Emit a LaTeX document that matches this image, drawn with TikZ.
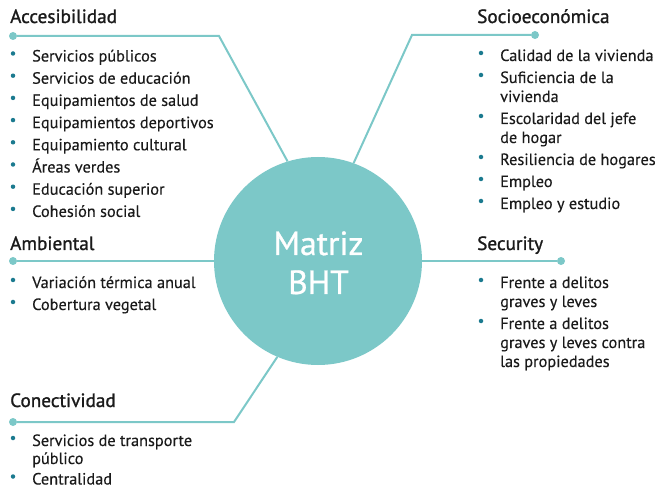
\documentclass[tikz,border=0pt]{standalone}
\usepackage{fontspec}
\setmainfont{PT Sans}
\newfontfamily\titlefont[FakeBold=1.2]{PT Sans}
\newfontfamily\itemfont[FakeBold=0.3]{PT Sans}
\newfontfamily\hubfont[FakeBold=0.8]{PT Sans}
\definecolor{tealc}{HTML}{7CC8C8}
\definecolor{bulc}{HTML}{1B7A8F}
\definecolor{txtc}{HTML}{1A1A1A}
\begin{document}
\begin{tikzpicture}[x=1pt,y=-1pt,
  item/.style={anchor=base west, inner sep=0pt, font=\itemfont\fontsize{16.3}{19}\selectfont, text=txtc},
  ttl/.style={anchor=base west, inner sep=0pt, font=\titlefont\fontsize{19.2}{22}\selectfont, text=txtc},
  bul/.style={circle, fill=bulc, inner sep=0pt, minimum size=4.5pt},
  conn/.style={draw=tealc, line width=2pt},
  endpt/.style={circle, fill=tealc, inner sep=0pt, minimum size=8pt},
  hub/.style={circle, fill=tealc, inner sep=0pt, minimum size=208pt},
  hubtxt/.style={anchor=base, inner sep=0pt, text=white, font=\hubfont\fontsize{33.5}{39}\selectfont}]
\useasboundingbox (0,0) rectangle (659,489);

% hub
\node[hub] (c) at (318,261) {};
\node[hubtxt] (m1) at (318.5,255) {Matriz};
\node[hubtxt] (m2) at (318.5,294) {BHT};

% Accesibilidad
\node[ttl] (tA) at (10,23) {Accesibilidad};
\node[endpt] (dA) at (13,36) {};
\coordinate (kA) at (219,36);
\draw[conn] (dA) -- (kA) -- (c.107);
\foreach \t [count=\i] in {Servicios públicos, Servicios de educación, Equipamientos de salud, Equipamientos deportivos, Equipamiento cultural, Áreas verdes, Educación superior, Cohesión social}{
  \node[item] (a\i) at (32,{61.5+22.2*(\i-1)}) {\t};
  \node[bul] (ab\i) at (13,{53.5+22.2*(\i-1)}) {};
}

% Ambiental
\node[ttl] (tB) at (10,250) {Ambiental};
\node[endpt] (dB) at (13,261) {};
\draw[conn] (dB) -- (c.west);
\node[item] (b1) at (32,288) {Variación térmica anual};
\node[bul] (bb1) at (13,280) {};
\node[item] (b2) at (32,310) {Cobertura vegetal};
\node[bul] (bb2) at (13,302) {};

% Conectividad
\node[ttl] (tC) at (10,407) {Conectividad};
\node[endpt] (dC) at (13,422) {};
\coordinate (kC) at (234,422);
\draw[conn] (dC) -- (kC) -- (c.247);
\node[item] (c1) at (32,446) {Servicios de transporte};
\node[item] (c1b) at (32,464) {público};
\node[bul] (cb1) at (13,438) {};
\node[item] (c2) at (32,484.5) {Centralidad};
\node[bul] (cb2) at (13,476.5) {};

% Socioeconómica
\node[ttl] (tD) at (477,23) {Socioeconómica};
\node[endpt] (dD) at (535,35) {};
\coordinate (kD) at (412,35);
\draw[conn] (dD) -- (kD) -- (c.70.5);
\node[item] (d1) at (500,61) {Calidad de la vivienda};
\node[bul] (db1) at (481,53) {};
\node[item] (d2) at (500,83) {Suficiencia de la};
\node[item] (d2b) at (500,102) {vivienda};
\node[bul] (db2) at (481,75) {};
\node[item] (d3) at (500,124) {Escolaridad del jefe};
\node[item] (d3b) at (500,143) {de hogar};
\node[bul] (db3) at (481,116) {};
\node[item] (d4) at (500,165) {Resiliencia de hogares};
\node[bul] (db4) at (481,157) {};
\node[item] (d5) at (500,187) {Empleo};
\node[bul] (db5) at (481,179) {};
\node[item] (d6) at (500,209) {Empleo y estudio};
\node[bul] (db6) at (481,201) {};

% Security
\node[ttl] (tE) at (477,250) {Security};
\node[endpt] (dE) at (561,261) {};
\draw[conn] (c.east) -- (dE);
\node[item] (e1) at (500,288) {Frente a delitos};
\node[item] (e1b) at (500,307) {graves y leves};
\node[bul] (eb1) at (481,280) {};
\node[item] (e2) at (500,329) {Frente a delitos};
\node[item] (e2b) at (500,348) {graves y leves contra};
\node[item] (e2c) at (500,367) {las propiedades};
\node[bul] (eb2) at (481,321) {};
\end{tikzpicture}
\end{document}
